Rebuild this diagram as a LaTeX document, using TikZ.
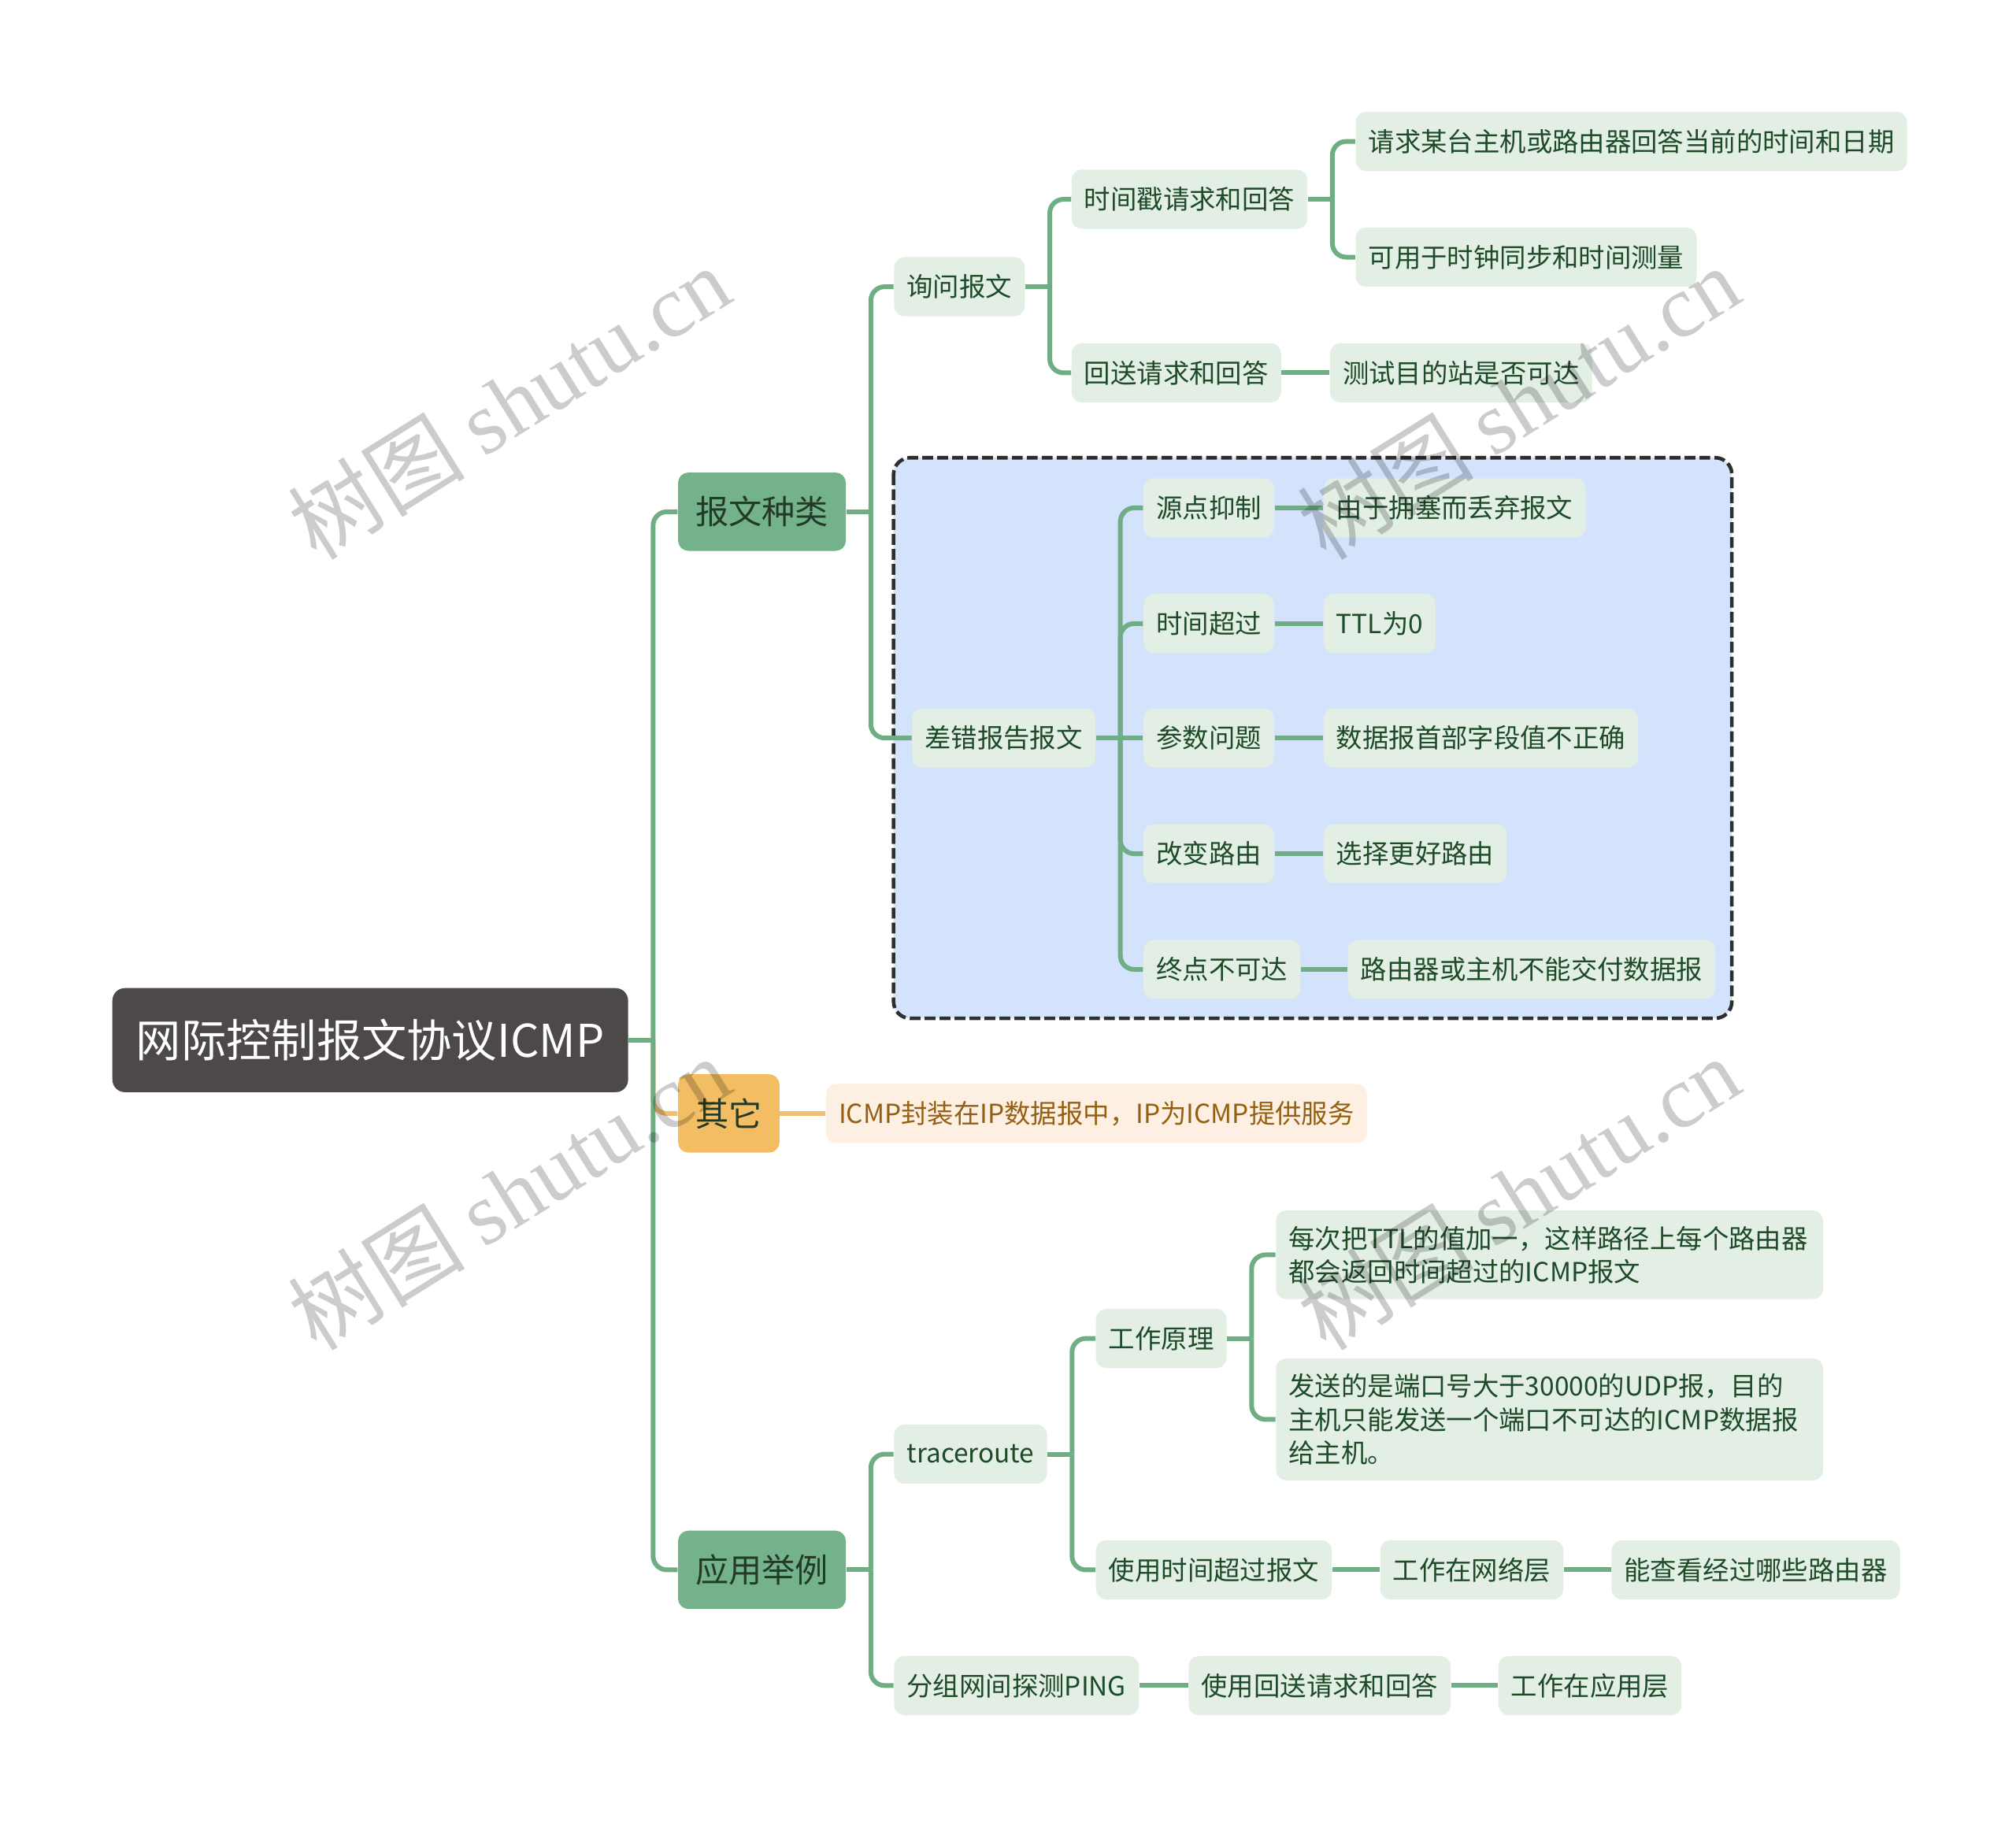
\documentclass[tikz,border=0pt]{standalone}
\usepackage{fontspec}
\setmainfont{Noto Sans CJK SC}
\newfontfamily\wmlatin{Liberation Serif}
\usetikzlibrary{calc}
\definecolor{lnk}{HTML}{6FAE85}
\definecolor{olnk}{HTML}{F0C072}
\definecolor{rootfill}{HTML}{4D4948}
\definecolor{topfill}{HTML}{74B28B}
\definecolor{toptext}{HTML}{233A29}
\definecolor{nfill}{HTML}{E3EFE5}
\definecolor{ntext}{HTML}{1D4A27}
\definecolor{ofill}{HTML}{F2BD63}
\definecolor{onfill}{HTML}{FDF0E2}
\definecolor{ontext}{HTML}{945F12}
\definecolor{grpfill}{HTML}{D3E3FB}
\definecolor{grpline}{HTML}{2E2E2E}
\begin{document}
\begin{tikzpicture}[x=0.0163265cm, y=-0.0163265cm,
  box/.style={rounded corners=3.7pt, anchor=west, fill=nfill, text=ntext,
    font=\fontsize{9.5}{12}\selectfont, minimum height=21.4pt, inner xsep=4.6pt, inner ysep=2pt},
  topbox/.style={box, fill=topfill, text=toptext, font=\fontsize{12}{14}\selectfont,
    minimum height=28.3pt, inner xsep=6.3pt},
  rootbox/.style={box, rounded corners=4.5pt, fill=rootfill, text=white,
    font=\fontsize{16.3}{20}\selectfont, minimum height=37.6pt, inner xsep=8.6pt},
  note/.style={box, text width=188.5pt, align=left, inner ysep=5.6pt},
  link/.style={draw=lnk, line width=1.7pt},
  olink/.style={draw=olnk, line width=1.7pt},
  grp/.style={draw=grpline, fill=grpfill, line width=1.3pt, dash pattern=on 3.9pt off 1.5pt, rounded corners=6pt},
  wm/.style={text=black, opacity=0.2, rotate=32, font=\fontsize{32}{32}\selectfont}]
 \fill[white] (0,0) rectangle (1568,1421);
 \useasboundingbox (0,0) rectangle (1568,1421);
 % dashed group round the error reports
 \draw[grp] (695,356) rectangle (1347,792);
 % root and main branches
 \node[rootbox] (root) at (87,809) {网际控制报文协议ICMP};
 \node[topbox] (bk) at (527,398) {报文种类};
 \node[topbox, fill=ofill] (qt) at (527,866) {其它};
 \node[topbox] (yy) at (527,1221) {应用举例};
 % query messages
 \node[box] (xw) at (695,223) {询问报文};
 \node[box] (sj) at (833,155) {时间戳请求和回答};
 \node[box] (hs) at (833,290) {回送请求和回答};
 \node[box] (sj1) at (1054,110) {请求某台主机或路由器回答当前的时间和日期};
 \node[box] (sj2) at (1054,200) {可用于时钟同步和时间测量};
 \node[box] (hs1) at (1034,290) {测试目的站是否可达};
 % error reports
 \node[box] (cc) at (709,574) {差错报告报文};
 \node[box] (yd) at (889,395) {源点抑制};
 \node[box] (cs) at (889,485) {时间超过};
 \node[box] (wt) at (889,574) {参数问题};
 \node[box] (gb) at (889,664) {改变路由};
 \node[box] (zd) at (889,754) {终点不可达};
 \node[box] (yd1) at (1029,395) {由于拥塞而丢弃报文};
 \node[box] (cs1) at (1029,485) {TTL为0};
 \node[box] (wt1) at (1029,574) {数据报首部字段值不正确};
 \node[box] (gb1) at (1029,664) {选择更好路由};
 \node[box] (zd1) at (1048,754) {路由器或主机不能交付数据报};
 % other
 \node[box, fill=onfill, text=ontext] (qt1) at (642,866) {ICMP封装在IP数据报中，IP为ICMP提供服务};
 % applications
 \node[box] (tr) at (695,1131) {traceroute};
 \node[box] (ping) at (695,1311) {分组网间探测PING};
 \node[box] (yl) at (852,1041) {工作原理};
 \node[box] (ys) at (852,1221) {使用时间超过报文};
 \node[note] (yl1) at (992,976) {每次把TTL的值加一，这样路径上每个路由器\\都会返回时间超过的ICMP报文};
 \node[note] (yl2) at (992,1104) {发送的是端口号大于30000的UDP报，目的\\主机只能发送一个端口不可达的ICMP数据报\\给主机。};
 \node[box] (ys1) at (1073,1221) {工作在网络层};
 \node[box] (ys2) at (1253,1221) {能查看经过哪些路由器};
 \node[box] (pg1) at (924,1311) {使用回送请求和回答};
 \node[box] (pg2) at (1165,1311) {工作在应用层};
 % connectors
 \draw[olink, rounded corners=5pt] ($(root.east)+(19,0)$) |- (qt.west);
 \draw[olink] (qt.east) -- (qt1.west);
 \foreach \p/\c in {root/bk, root/yy, bk/xw, bk/cc, xw/sj, xw/hs, sj/sj1, sj/sj2,
   cc/yd, cc/cs, cc/gb, cc/zd, yy/tr, yy/ping, tr/yl, tr/ys, yl/yl1, yl/yl2} {
  \draw[link] (\p.east) -- ($(\p.east)+(19,0)$);
  \draw[link, rounded corners=5pt] ($(\p.east)+(19,0)$) |- (\c.west);
 }
 \foreach \p/\c in {hs/hs1, cc/wt, yd/yd1, cs/cs1, wt/wt1, gb/gb1, zd/zd1,
   ys/ys1, ys1/ys2, ping/pg1, pg1/pg2}
  \draw[link] (\p.east) -- (\c.west);
 % watermark
 \foreach \n/\x/\y in {1/396/313, 2/1181/313, 3/396/928, 4/1181/928}
  \node[wm] (wm\n) at (\x,\y) {树图 {\wmlatin shutu.cn}};
\end{tikzpicture}
\end{document}
